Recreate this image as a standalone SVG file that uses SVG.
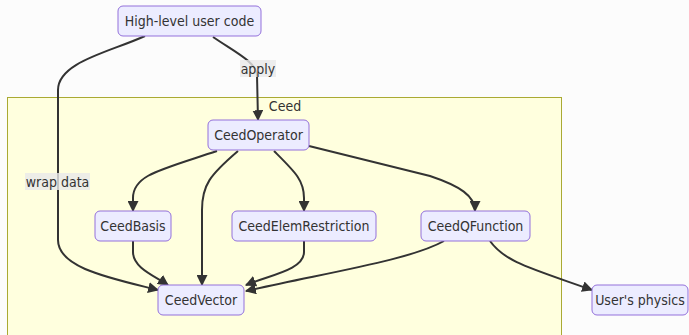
<svg xmlns="http://www.w3.org/2000/svg" width="689" height="335" viewBox="0 0 689 335">
  <style>
    text { font-family: "DejaVu Sans Condensed", "DejaVu Sans", sans-serif; font-stretch: condensed; font-size: 14px; fill: #333; }
    .node rect { fill: #ECECFF; stroke: #9370DB; stroke-width: 1; }
    .node text { text-anchor: middle; dominant-baseline: central; }
    .edge { fill: none; stroke: #333; stroke-width: 2; marker-end: url(#arrow); }
    .elabel rect { fill: #e8e8e8; fill-opacity: 0.8; }
    .elabel text { text-anchor: middle; dominant-baseline: central; }
    .cluster rect { fill: #ffffde; stroke: #aaaa33; stroke-width: 1; }
  </style>
  <defs>
    <marker id="arrow" viewBox="0 0 10 10" refX="9" refY="5" markerUnits="userSpaceOnUse" markerWidth="11" markerHeight="11" orient="auto">
      <path d="M0,0 L10,5 L0,10 z" fill="#333"/>
    </marker>
  </defs>
  <rect width="689" height="335" fill="#fcfcfc"/>

  <!-- Ceed subgraph -->
  <g id="ceed" class="cluster">
    <rect x="7.5" y="97.5" width="554" height="245"/>
    <text x="285" y="106" text-anchor="middle" dominant-baseline="central">Ceed</text>
  </g>

  <!-- connectors -->
  <g id="edges">
    <path class="edge" d="M145,36 C110,52 58,62 58,90 L58,240 C58,268 110,278 158,290"/>
    <path class="edge" d="M213,37 C235,52 256,62 257,75 L258,120"/>
    <path class="edge" d="M217,151 C160,170 133,175 133,198 L133,211"/>
    <path class="edge" d="M238,151 C210,175 202,185 202,210 L202,285"/>
    <path class="edge" d="M274,151 C295,172 304,180 304,198 L304,211"/>
    <path class="edge" d="M309,146 L430,176 C460,186 475,196 475,211"/>
    <path class="edge" d="M133,241 L133,252 C133,268 155,276 168,285"/>
    <path class="edge" d="M304,241 L304,252 C304,270 270,275 246,285"/>
    <path class="edge" d="M444,241 C410,260 330,272 246,291"/>
    <path class="edge" d="M490,241 C505,262 530,268 592,290"/>
  </g>

  <!-- edge labels -->
  <g id="edge-labels">
    <g class="elabel">
      <rect x="240" y="60" width="36" height="17"/>
      <text x="258" y="68.5">apply</text>
    </g>
    <g class="elabel">
      <rect x="25" y="173" width="65" height="17"/>
      <text x="57.5" y="181.5">wrap data</text>
    </g>
  </g>

  <!-- nodes -->
  <g id="user-code" class="node">
    <rect x="118" y="6" width="143" height="30" rx="5"/>
    <text x="189.5" y="21">High-level user code</text>
  </g>
  <g id="ceed-operator" class="node">
    <rect x="208" y="120" width="101" height="30" rx="5"/>
    <text x="258.5" y="135">CeedOperator</text>
  </g>
  <g id="ceed-basis" class="node">
    <rect x="95" y="211" width="76" height="30" rx="5"/>
    <text x="133" y="226">CeedBasis</text>
  </g>
  <g id="ceed-elem-restriction" class="node">
    <rect x="232" y="211" width="144" height="30" rx="5"/>
    <text x="304" y="226">CeedElemRestriction</text>
  </g>
  <g id="ceed-qfunction" class="node">
    <rect x="421" y="211" width="109" height="30" rx="5"/>
    <text x="475.5" y="226">CeedQFunction</text>
  </g>
  <g id="ceed-vector" class="node">
    <rect x="158" y="285" width="86" height="30" rx="5"/>
    <text x="201" y="300">CeedVector</text>
  </g>
  <g id="users-physics" class="node">
    <rect x="592" y="285" width="96" height="30" rx="5"/>
    <text x="640" y="300">User's physics</text>
  </g>
</svg>
